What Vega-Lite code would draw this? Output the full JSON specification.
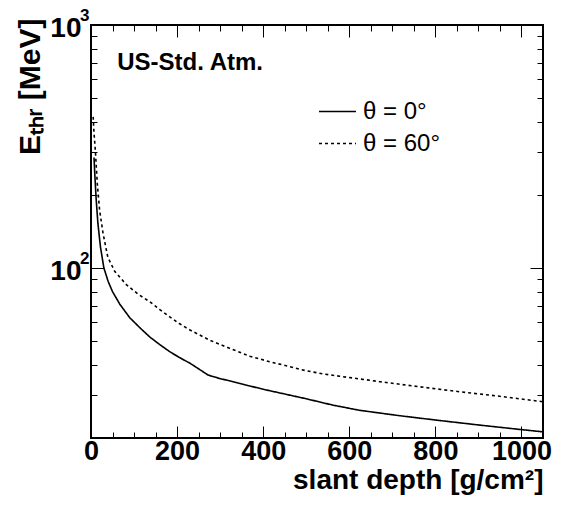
{
  "$schema": "https://vega.github.io/schema/vega-lite/v6.json",
  "width": 452,
  "height": 413,
  "autosize": {"type": "none"},
  "padding": {"left": 91, "top": 25, "right": 18, "bottom": 74},
  "background": "white",
  "config": {
    "view": {"stroke": "black", "strokeWidth": 2},
    "font": "Liberation Sans",
    "axis": {"domain": false, "grid": false, "tickColor": "black", "tickWidth": 1, "labelColor": "black", "titleColor": "black", "labelFont": "Liberation Sans", "titleFont": "Liberation Sans", "labelFontWeight": "bold", "titleFontWeight": "bold"}
  },
  "data": {
    "values": [
      {"series": "θ = 0°", "depth": 7, "E": 285},
      {"series": "θ = 0°", "depth": 9, "E": 240},
      {"series": "θ = 0°", "depth": 12, "E": 192},
      {"series": "θ = 0°", "depth": 16, "E": 153},
      {"series": "θ = 0°", "depth": 22, "E": 122},
      {"series": "θ = 0°", "depth": 30, "E": 100},
      {"series": "θ = 0°", "depth": 40, "E": 88},
      {"series": "θ = 0°", "depth": 50, "E": 80},
      {"series": "θ = 0°", "depth": 67, "E": 71},
      {"series": "θ = 0°", "depth": 90, "E": 62.5},
      {"series": "θ = 0°", "depth": 115, "E": 56.5},
      {"series": "θ = 0°", "depth": 137, "E": 52},
      {"series": "θ = 0°", "depth": 160, "E": 48.4},
      {"series": "θ = 0°", "depth": 183, "E": 45.3},
      {"series": "θ = 0°", "depth": 206, "E": 42.8},
      {"series": "θ = 0°", "depth": 230, "E": 40.6},
      {"series": "θ = 0°", "depth": 252, "E": 38.3},
      {"series": "θ = 0°", "depth": 272, "E": 36.3},
      {"series": "θ = 0°", "depth": 300, "E": 35.1},
      {"series": "θ = 0°", "depth": 330, "E": 34.1},
      {"series": "θ = 0°", "depth": 370, "E": 32.7},
      {"series": "θ = 0°", "depth": 408, "E": 31.5},
      {"series": "θ = 0°", "depth": 455, "E": 30.2},
      {"series": "θ = 0°", "depth": 500, "E": 29.0},
      {"series": "θ = 0°", "depth": 562, "E": 27.3},
      {"series": "θ = 0°", "depth": 624, "E": 26.0},
      {"series": "θ = 0°", "depth": 717, "E": 24.7},
      {"series": "θ = 0°", "depth": 810, "E": 23.6},
      {"series": "θ = 0°", "depth": 903, "E": 22.6},
      {"series": "θ = 0°", "depth": 995, "E": 21.7},
      {"series": "θ = 0°", "depth": 1050, "E": 21.2},
      {"series": "θ = 60°", "depth": 5, "E": 419},
      {"series": "θ = 60°", "depth": 7, "E": 360},
      {"series": "θ = 60°", "depth": 10, "E": 306},
      {"series": "θ = 60°", "depth": 14.6, "E": 223},
      {"series": "θ = 60°", "depth": 20, "E": 173},
      {"series": "θ = 60°", "depth": 28, "E": 139},
      {"series": "θ = 60°", "depth": 39, "E": 111},
      {"series": "θ = 60°", "depth": 55, "E": 97},
      {"series": "θ = 60°", "depth": 82, "E": 85.5},
      {"series": "θ = 60°", "depth": 110, "E": 78},
      {"series": "θ = 60°", "depth": 137, "E": 72.6},
      {"series": "θ = 60°", "depth": 160, "E": 67.5},
      {"series": "θ = 60°", "depth": 183, "E": 63.0},
      {"series": "θ = 60°", "depth": 206, "E": 59.0},
      {"series": "θ = 60°", "depth": 230, "E": 55.6},
      {"series": "θ = 60°", "depth": 276, "E": 50.5},
      {"series": "θ = 60°", "depth": 323, "E": 46.7},
      {"series": "θ = 60°", "depth": 369, "E": 43.4},
      {"series": "θ = 60°", "depth": 415, "E": 41.2},
      {"series": "θ = 60°", "depth": 462, "E": 39.3},
      {"series": "θ = 60°", "depth": 500, "E": 37.8},
      {"series": "θ = 60°", "depth": 540, "E": 36.7},
      {"series": "θ = 60°", "depth": 578, "E": 35.9},
      {"series": "θ = 60°", "depth": 671, "E": 34.1},
      {"series": "θ = 60°", "depth": 763, "E": 32.5},
      {"series": "θ = 60°", "depth": 856, "E": 31.0},
      {"series": "θ = 60°", "depth": 949, "E": 29.7},
      {"series": "θ = 60°", "depth": 1050, "E": 28.2}
    ]
  },
  "layer": [
    {
      "mark": {"type": "line", "strokeWidth": 1.6, "color": "black", "clip": true},
      "encoding": {
        "x": {
          "field": "depth", "type": "quantitative",
          "scale": {"domain": [0, 1050], "nice": false, "zero": false},
          "axis": {
            "orient": "bottom",
            "values": [0, 50, 100, 150, 200, 250, 300, 350, 400, 450, 500, 550, 600, 650, 700, 750, 800, 850, 900, 950, 1000],
            "format": "d",
            "labelExpr": "datum.value % 200 === 0 ? datum.label : ''",
            "tickSize": {"condition": {"test": "datum.value % 200 === 0", "value": -12}, "value": -6},
            "labelFontSize": 27,
            "labelPadding": 12,
            "labelFlush": false,
            "labelOverlap": false,
            "title": "slant depth [g/cm²]",
            "titleFontSize": 28,
            "titleAnchor": "end",
            "titleAlign": "right",
            "titleBaseline": "alphabetic",
            "titleX": 452,
            "titleY": 50
          }
        },
        "y": {
          "field": "E", "type": "quantitative",
          "scale": {"type": "log", "domain": [20, 1000], "nice": false},
          "axis": {
            "orient": "left",
            "values": [20, 30, 40, 50, 60, 70, 80, 90, 100, 200, 300, 400, 500, 600, 700, 800, 900, 1000],
            "labelExpr": "(datum.value == 100 || datum.value == 1000) ? '10' : ''",
            "tickSize": {"condition": {"test": "datum.value == 100 || datum.value == 1000", "value": -13}, "value": -6},
            "labelFontSize": 28,
            "labelPadding": 23,
            "labelOffset": 3,
            "labelFlush": false,
            "labelOverlap": false,
            "labelBaseline": "middle",
            "title": "Eₜₕᵣ [MeV]",
            "titleFontSize": 30,
            "titleAngle": -90,
            "titleAlign": "right",
            "titleAnchor": "end",
            "titleBaseline": "bottom",
            "titleX": -46,
            "titleY": -7
          }
        },
        "strokeDash": {
          "field": "series", "type": "nominal",
          "scale": {"domain": ["θ = 0°", "θ = 60°"], "range": [[1, 0], [3, 3]]},
          "legend": {
            "orient": "none", "legendX": 227, "legendY": 67, "title": null,
            "symbolType": "stroke", "symbolSize": 1369, "symbolStrokeWidth": 1.5, "symbolStrokeColor": "black",
            "labelFont": "Liberation Sans", "labelFontSize": 24, "labelFontWeight": "normal", "labelColor": "black",
            "labelOffset": 6, "rowPadding": -5, "padding": 0
          }
        }
      }
    },
    {
      "mark": {"type": "line", "opacity": 0},
      "encoding": {
        "x": {
          "field": "depth", "type": "quantitative",
          "axis": {
            "orient": "top",
            "values": [0, 50, 100, 150, 200, 250, 300, 350, 400, 450, 500, 550, 600, 650, 700, 750, 800, 850, 900, 950, 1000],
            "labels": false,
            "tickSize": {"condition": {"test": "datum.value % 200 === 0", "value": -12}, "value": -6},
            "title": null
          }
        },
        "y": {
          "field": "E", "type": "quantitative",
          "axis": {
            "orient": "right",
            "values": [20, 30, 40, 50, 60, 70, 80, 90, 100, 200, 300, 400, 500, 600, 700, 800, 900, 1000],
            "labels": false,
            "tickSize": {"condition": {"test": "datum.value == 100 || datum.value == 1000", "value": -13}, "value": -6},
            "title": null
          }
        },
        "detail": {"field": "series", "type": "nominal"}
      }
    },
    {
      "mark": {"type": "line", "opacity": 0},
      "encoding": {
        "x": {"field": "depth", "type": "quantitative", "axis": null},
        "y": {
          "field": "E", "type": "quantitative",
          "axis": {
            "orient": "left",
            "values": [100, 1000],
            "labelExpr": "datum.value == 100 ? '2' : '3'",
            "ticks": false,
            "tickSize": 0,
            "labelFontSize": 17,
            "labelPadding": 2,
            "labelOffset": -10,
            "labelBaseline": "middle",
            "labelFlush": false,
            "labelOverlap": false,
            "title": null
          }
        },
        "detail": {"field": "series", "type": "nominal"}
      }
    },
    {
      "data": {"values": [{"label": "US-Std. Atm."}]},
      "mark": {"type": "text", "font": "Liberation Sans", "fontWeight": "bold", "fontSize": 24, "align": "left", "baseline": "alphabetic", "color": "black"},
      "encoding": {
        "text": {"field": "label", "type": "nominal"},
        "x": {"datum": 61, "type": "quantitative", "axis": null},
        "y": {"datum": 653, "type": "quantitative", "axis": null}
      }
    }
  ],
  "resolve": {"axis": {"x": "independent", "y": "independent"}}
}
